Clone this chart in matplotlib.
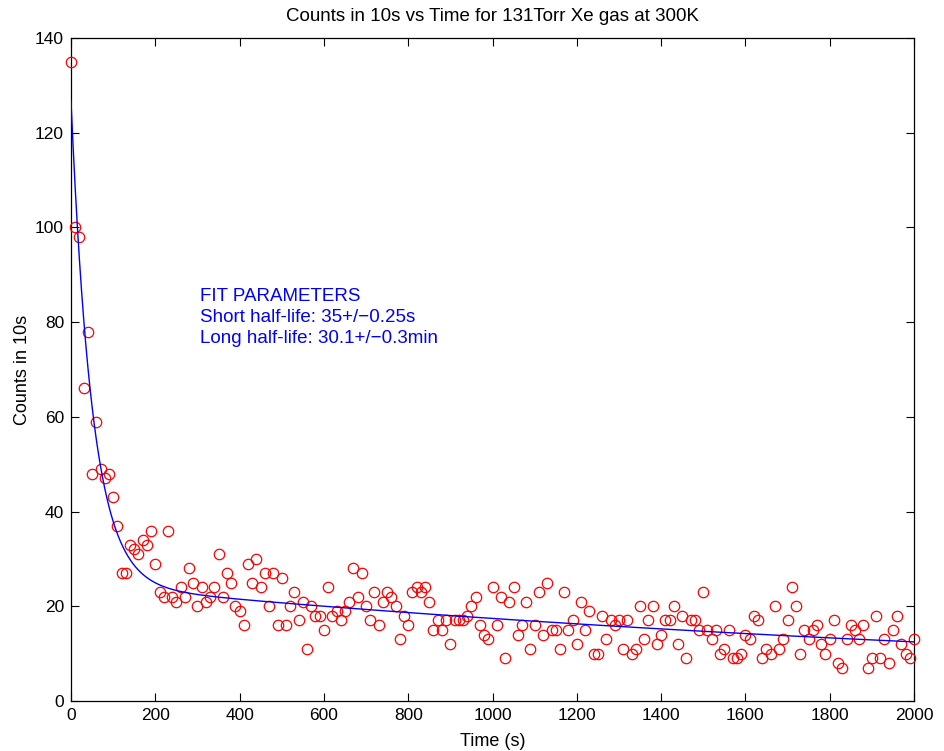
import numpy as np
import matplotlib
matplotlib.use("Agg")
import matplotlib.pyplot as plt

# ------------------------------------------------------------
# data: counts per 10 s bin
# ------------------------------------------------------------
time_s = np.arange(0, 2001, 10)

counts = [
    135, 100, 98, 66, 78, 48, 59, 49, 47, 48,
    43, 37, 27, 27, 33, 32, 31, 34, 33, 36,
    29, 23, 22, 36, 22, 21, 24, 22, 28, 25,
    20, 24, 21, 22, 24, 31, 22, 27, 25, 20,
    19, 16, 29, 25, 30, 24, 27, 20, 27, 16,
    26, 16, 20, 23, 17, 21, 11, 20, 18, 18,
    15, 24, 18, 19, 17, 19, 21, 28, 22, 27,
    20, 17, 23, 16, 21, 23, 22, 20, 13, 18,
    16, 23, 24, 23, 24, 21, 15, 17, 15, 17,
    12, 17, 17, 17, 18, 20, 22, 16, 14, 13,
    24, 16, 22, 9, 21, 24, 14, 16, 21, 11,
    16, 23, 14, 25, 15, 15, 11, 23, 15, 17,
    12, 21, 15, 19, 10, 10, 18, 13, 17, 16,
    17, 11, 17, 10, 11, 20, 13, 17, 20, 12,
    14, 17, 17, 20, 12, 18, 9, 17, 17, 15,
    23, 15, 13, 15, 10, 11, 15, 9, 9, 10,
    14, 13, 18, 17, 9, 11, 10, 20, 11, 13,
    17, 24, 20, 10, 15, 13, 15, 16, 12, 10,
    13, 17, 8, 7, 13, 16, 15, 13, 16, 7,
    9, 18, 9, 13, 8, 15, 18, 12, 10, 9,
    13,
]

# fit: two exponentials plus a flat background
short_half_life = 35.0          # s
long_half_life = 30.1 * 60.0    # s
amp_short = 102.0
amp_long = 22.8
background = 1.9

fit_text = [
    "FIT PARAMETERS",
    "Short half-life: 35+/\u22120.25s",
    "Long half-life: 30.1+/\u22120.3min",
]

# ------------------------------------------------------------
# plot
# ------------------------------------------------------------
plt.rcParams["font.family"] = ["Liberation Sans", "DejaVu Sans"]

fig = plt.figure(figsize=(9.44, 7.51), dpi=100)
ax = fig.add_axes([71 / 944, 1 - 701 / 751, (914 - 71) / 944, (701 - 38) / 751])

t_fit = np.arange(0, 2001, 1)
y_fit = (amp_short * np.exp(-np.log(2) * t_fit / short_half_life)
         + amp_long * np.exp(-np.log(2) * t_fit / long_half_life)
         + background)

ax.plot(time_s, counts, "o", mfc="none", mec="#ff0000", ms=7.5, mew=0.9,
        clip_on=False, zorder=3)
ax.plot(t_fit, y_fit, color="#0000ff", lw=1.0, zorder=4)

ax.set_xlim(0, 2000)
ax.set_ylim(0, 140)
ax.set_xticks(range(0, 2001, 200))
ax.set_yticks(range(0, 141, 20))
ax.tick_params(direction="in", length=6, width=0.8, top=True, right=True,
               labelsize=12.5, pad=5)
for s in ax.spines.values():
    s.set_linewidth(0.9)

ax.set_xlabel("Time (s)", fontsize=13, labelpad=7)
ax.set_ylabel("Counts in 10s", fontsize=13, labelpad=3)
ax.set_title("Counts in 10s vs Time for 131Torr Xe gas at 300K", fontsize=13.5, pad=12)

for i, line in enumerate(fit_text):
    ax.text(306, 85.5 - i * 4.45, line, color="#0000ff", fontsize=13.5,
            ha="left", va="center")

fig.savefig("out.png", dpi=100)
